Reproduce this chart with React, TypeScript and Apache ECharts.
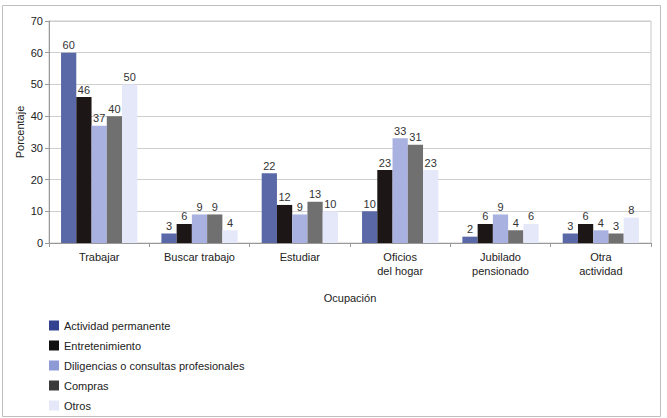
import React, { useEffect, useRef } from "react";
import * as echarts from "echarts";

const categories = [
  "Trabajar",
  "Buscar trabajo",
  "Estudiar",
  "Oficios\ndel hogar",
  "Jubilado\npensionado",
  "Otra\nactividad",
];

const seriesNames = [
  "Actividad permanente",
  "Entretenimiento",
  "Diligencias o consultas profesionales",
  "Compras",
  "Otros",
];

const actividadPermanente = [60, 3, 22, 10, 2, 3];
const entretenimiento = [46, 6, 12, 23, 6, 6];
const diligencias = [37, 9, 9, 33, 9, 4];
const compras = [40, 9, 13, 31, 4, 3];
const otros = [50, 4, 10, 23, 6, 8];

const yTicks = { min: 0, max: 70, interval: 10 };

const barColors = ["#5a68a8", "#1c1616", "#a9b1e0", "#707070", "#e4e8f8"];
const legendColors = ["#34438f", "#111111", "#8e9ad6", "#3a3a3a", "#e4e8f8"];

export default function App() {
  const ref = useRef<HTMLDivElement>(null);
  useEffect(() => {
    if (!ref.current) return;
    const chart = echarts.init(ref.current, undefined, { renderer: "svg" });
    const values = [actividadPermanente, entretenimiento, diligencias, compras, otros];
    const font = "Liberation Sans, Arial, sans-serif";
    chart.setOption({
      animation: false,
      backgroundColor: "#ffffff",
      textStyle: { fontFamily: font },
      graphic: [
        {
          type: "rect",
          shape: { x: 2.5, y: 5.5, width: 658, height: 411 },
          style: { fill: "none", stroke: "#bfbfbf", lineWidth: 1 },
          silent: true,
          z: -1,
        },
      ],
      grid: {
        left: 49,
        right: 16,
        top: 21,
        bottom: 175,
        show: true,
        borderColor: "#c8c8c8",
        borderWidth: 1,
      },
      legend: {
        orient: "vertical",
        left: 49,
        top: 319,
        padding: 0,
        itemWidth: 10,
        itemHeight: 10,
        itemGap: 7,
        icon: "rect",
        textStyle: { fontSize: 11, color: "#222", fontFamily: font, lineHeight: 13 },
        data: seriesNames.map((n, i) => ({
          name: n,
          itemStyle: { color: legendColors[i] },
        })),
      },
      xAxis: {
        type: "category",
        data: categories,
        name: "Ocupación",
        nameLocation: "middle",
        nameGap: 49,
        nameMoveOverlap: false,
        nameTextStyle: { fontSize: 11, color: "#222" },
        axisLine: { lineStyle: { color: "#999" } },
        axisTick: { show: true, length: 4, lineStyle: { color: "#999" } },
        axisLabel: { fontSize: 11, color: "#222", margin: 7, lineHeight: 14 },
      },
      yAxis: {
        type: "value",
        min: yTicks.min,
        max: yTicks.max,
        interval: yTicks.interval,
        name: "Porcentaje",
        nameLocation: "middle",
        nameRotate: 90,
        nameGap: 24,
        nameMoveOverlap: false,
        nameTextStyle: { fontSize: 11, color: "#222" },
        axisLine: { show: true, lineStyle: { color: "#999" } },
        axisTick: { show: true, length: 4, lineStyle: { color: "#999" } },
        axisLabel: { fontSize: 11, color: "#222", margin: 6 },
        splitLine: { lineStyle: { color: "#cfcfcf" } },
      },
      series: seriesNames.map((n, i) => ({
        name: n,
        type: "bar",
        data: values[i],
        barGap: "0%",
        barCategoryGap: "24%",
        itemStyle: { color: barColors[i] },
        label: {
          show: true,
          position: "top",
          distance: 2,
          fontSize: 11,
          color: "#333",
        },
      })),
    });
    return () => chart.dispose();
  }, []);
  return (
    <div
      ref={ref}
      style={{ position: "fixed", left: 0, top: 0, width: 667, height: 418 }}
    />
  );
}
